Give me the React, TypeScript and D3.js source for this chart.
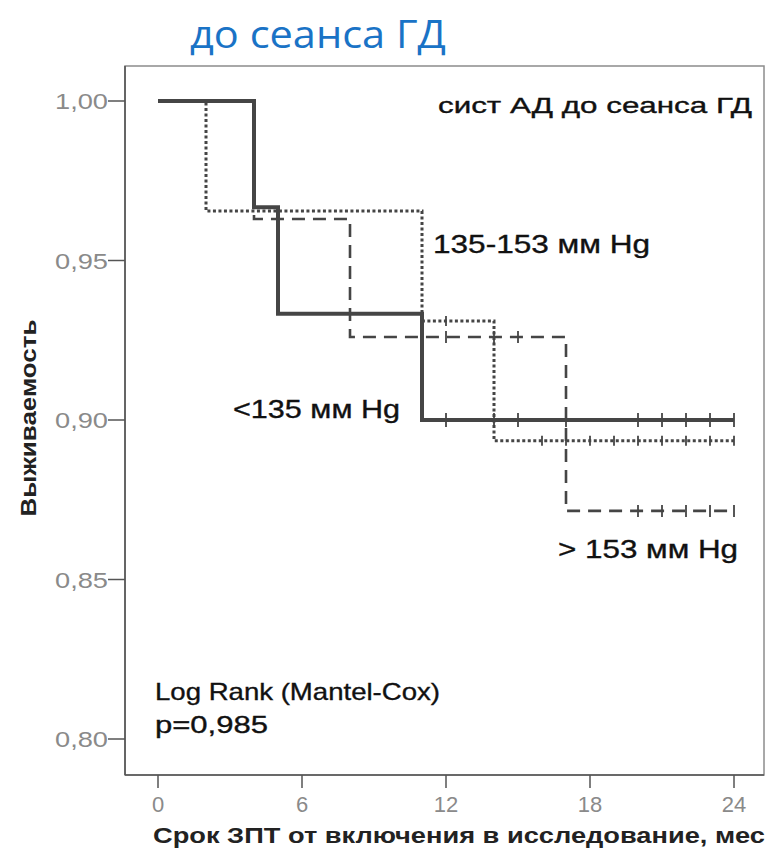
import React from "react";
import * as d3 from "d3";

// Kaplan–Meier step curves: time of each step (months) and survival after it
const lowTimes = [0, 4, 5, 11, 24];
const lowSurv = [1.0, 0.9667, 0.9333, 0.9, 0.9];
const lowCensor = [12, 14, 15, 17, 20, 21, 22, 23, 24];

const midTimes = [0, 2, 11, 14, 24];
const midSurv = [1.0, 0.9655, 0.931, 0.8935, 0.8935];
const midCensor = [12, 16, 17, 18, 19, 20, 21, 22, 23, 24];

const highTimes = [0, 4, 8, 17, 24];
const highSurv = [1.0, 0.963, 0.926, 0.8715, 0.8715];
const highCensor = [12, 14, 15, 20, 21, 22, 23, 24];

const xTicks = [0, 6, 12, 18, 24];
const yTicks = [0.8, 0.85, 0.9, 0.95, 1.0];

const W = 767;
const H = 852;
const frame = { left: 125, top: 66, right: 764, bottom: 775 };

const x = d3.scaleLinear().domain([0, 24]).range([158, 734]);
const y = d3.scaleLinear().domain([0.8, 1.0]).range([739, 101]);

type Pt = [number, number];
const stepLine = d3
  .line<Pt>()
  .x((d) => x(d[0]))
  .y((d) => y(d[1]))
  .curve(d3.curveStepAfter);

function survAt(times: number[], surv: number[], t: number) {
  const i = d3.bisectRight(times, t) - 1;
  return surv[Math.max(0, Math.min(i, surv.length - 1))];
}

const fmt = (v: number) => v.toFixed(2).replace(".", ",");

const ink = "#454545";

function Curve(props: {
  times: number[];
  surv: number[];
  censor: number[];
  width: number;
  dash?: string;
  tick: number;
}) {
  const { times, surv, censor, width, dash, tick } = props;
  const pts: Pt[] = times.map((t, i) => [t, surv[i]]);
  return (
    <g>
      <path
        d={stepLine(pts) || ""}
        fill="none"
        stroke={ink}
        strokeWidth={width}
        strokeDasharray={dash}
      />
      {censor.map((t, i) => {
        const cy = y(survAt(times, surv, t));
        return (
          <line
            key={i}
            x1={x(t)}
            x2={x(t)}
            y1={cy - tick}
            y2={cy + tick}
            stroke={ink}
            strokeWidth={1.8}
          />
        );
      })}
    </g>
  );
}

export default function App() {
  const sans = "'Liberation Sans', Arial, sans-serif";
  return (
    <svg
      width={W}
      height={H}
      viewBox={`0 0 ${W} ${H}`}
      style={{ position: "absolute", left: 0, top: 0, background: "#fff" }}
    >
      <text
        x={190}
        y={48}
        fontFamily="'Open Sans', 'Noto Sans', sans-serif"
        fontSize={38}
        fill="#1a73c6"
        textLength={256}
        lengthAdjust="spacingAndGlyphs"
      >
        до сеанса ГД
      </text>

      {/* plot frame */}
      <rect
        x={frame.left}
        y={frame.top}
        width={frame.right - frame.left}
        height={frame.bottom - frame.top}
        fill="none"
        stroke="#8c8c8c"
        strokeWidth={1.5}
      />
      <line
        x1={frame.left}
        x2={frame.left}
        y1={frame.top}
        y2={frame.bottom}
        stroke="#555"
        strokeWidth={1.6}
      />
      <line
        x1={frame.left}
        x2={frame.right}
        y1={frame.bottom}
        y2={frame.bottom}
        stroke="#555"
        strokeWidth={1.6}
      />

      {/* y axis */}
      {yTicks.map((v) => (
        <g key={v}>
          <line
            x1={frame.left - 17}
            x2={frame.left}
            y1={y(v)}
            y2={y(v)}
            stroke="#555"
            strokeWidth={1.5}
          />
          <text
            x={frame.left - 17}
            y={y(v) + 8}
            textAnchor="end"
            fontFamily={sans}
            fontSize={22}
            fill="#8a8a8a"
            textLength={53}
            lengthAdjust="spacingAndGlyphs"
          >
            {fmt(v)}
          </text>
        </g>
      ))}

      {/* x axis */}
      {xTicks.map((v) => (
        <g key={v}>
          <line
            x1={x(v)}
            x2={x(v)}
            y1={frame.bottom}
            y2={frame.bottom + 13}
            stroke="#555"
            strokeWidth={1.5}
          />
          <text
            x={x(v)}
            y={812}
            textAnchor="middle"
            fontFamily={sans}
            fontSize={22}
            fill="#8a8a8a"
          >
            {v}
          </text>
        </g>
      ))}

      <text
        transform="translate(36,418) rotate(-90)"
        textAnchor="middle"
        fontFamily={sans}
        fontWeight="bold"
        fontSize={22}
        fill="#222"
        textLength={197}
        lengthAdjust="spacingAndGlyphs"
      >
        Выживаемость
      </text>
      <text
        x={153}
        y={843}
        fontFamily={sans}
        fontWeight="bold"
        fontSize={22}
        fill="#222"
        textLength={612}
        lengthAdjust="spacingAndGlyphs"
      >
        Срок ЗПТ от включения в исследование, мес
      </text>

      {/* survival curves */}
      <Curve
        times={highTimes}
        surv={highSurv}
        censor={highCensor}
        width={2.6}
        dash="13,8"
        tick={6}
      />
      <Curve
        times={midTimes}
        surv={midSurv}
        censor={midCensor}
        width={3}
        dash="3,2.5"
        tick={5}
      />
      <Curve
        times={lowTimes}
        surv={lowSurv}
        censor={lowCensor}
        width={4}
        tick={7}
      />

      {/* annotations */}
      <g fontFamily={sans} fill="#111" stroke="#111" strokeWidth={0.35}>
        <text x={438} y={113} fontSize={22} textLength={314} lengthAdjust="spacingAndGlyphs">
          сист АД до сеанса ГД
        </text>
        <text x={433} y={253} fontSize={25} textLength={217} lengthAdjust="spacingAndGlyphs">
          135-153 мм Hg
        </text>
        <text x={233} y={418} fontSize={25} textLength={167} lengthAdjust="spacingAndGlyphs">
          {"<135 мм Hg"}
        </text>
        <text x={558} y={558} fontSize={25} textLength={180} lengthAdjust="spacingAndGlyphs">
          {"> 153 мм Hg"}
        </text>
        <text x={155} y={700} fontSize={24} textLength={285} lengthAdjust="spacingAndGlyphs">
          Log Rank (Mantel-Cox)
        </text>
        <text x={155} y={733} fontSize={24} textLength={113} lengthAdjust="spacingAndGlyphs">
          p=0,985
        </text>
      </g>
    </svg>
  );
}
